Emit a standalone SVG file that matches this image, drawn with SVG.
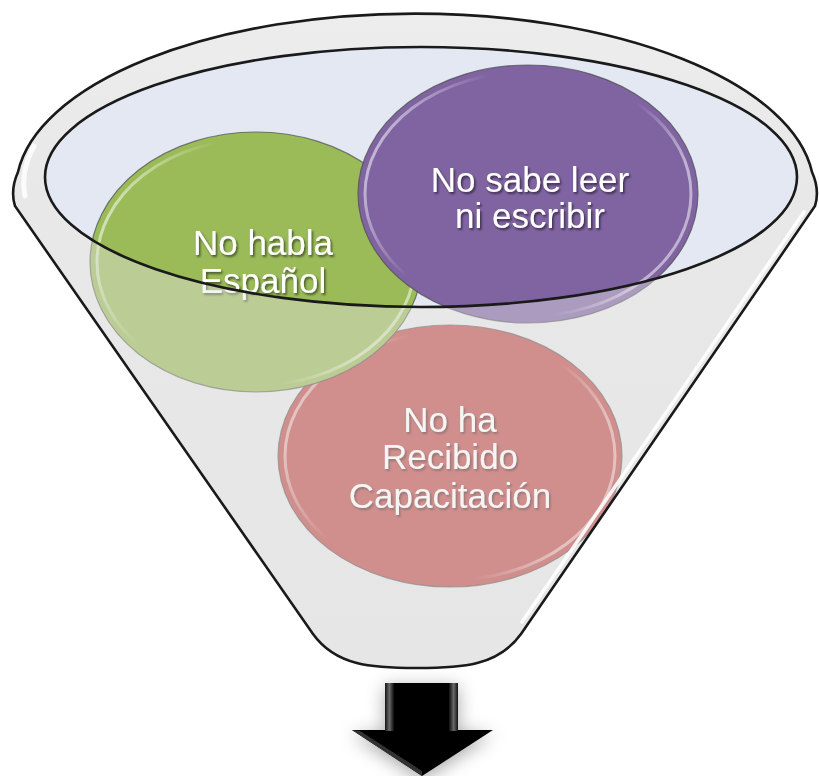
<svg xmlns="http://www.w3.org/2000/svg" width="819" height="776" viewBox="0 0 819 776">
<style>
.lbl{font-family:"Liberation Sans",Arial,sans-serif;font-size:35px;fill:#ffffff;text-anchor:middle}
.edge{fill:none;stroke:#1a1a1a;stroke-width:2.6}
.ring{stroke:#4a4a4a;stroke-width:1.2;stroke-opacity:0.7}
.gloss{fill:none;stroke:url(#hl);stroke-width:3}
</style>
<defs>
<linearGradient id="hl" x1="0" y1="0" x2="1" y2="0.3">
<stop offset="0" stop-color="#fff" stop-opacity="0.8"/>
<stop offset="0.35" stop-color="#fff" stop-opacity="0"/>
<stop offset="0.8" stop-color="#fff" stop-opacity="0"/>
<stop offset="1" stop-color="#fff" stop-opacity="0.5"/>
</linearGradient>
<linearGradient id="body" x1="0" y1="0" x2="0" y2="1">
<stop offset="0" stop-color="#f1f1f1"/>
<stop offset="0.3" stop-color="#e8e8e8"/>
<stop offset="1" stop-color="#e6e6e6"/>
</linearGradient>
<linearGradient id="shaftG" x1="0" y1="0" x2="1" y2="0">
<stop offset="0" stop-color="#111"/>
<stop offset="0.06" stop-color="#6a6a6a"/>
<stop offset="0.13" stop-color="#000"/>
<stop offset="0.87" stop-color="#000"/>
<stop offset="0.94" stop-color="#6a6a6a"/>
<stop offset="1" stop-color="#111"/>
</linearGradient>
<filter id="ts" x="-10%" y="-20%" width="130%" height="150%">
<feDropShadow dx="1.5" dy="2" stdDeviation="1.2" flood-color="#000" flood-opacity="0.55"/>
</filter>
<filter id="as" x="-40%" y="-40%" width="180%" height="180%">
<feDropShadow dx="0" dy="4" stdDeviation="9" flood-color="#000" flood-opacity="0.35"/>
</filter>
<path id="outer" d="M 18,172 A 399 176 0 0 1 812,172 Q 820,190 815,206 L 521,634 C 498,666 462,668 417,668 C 372,668 336,666 313,634 L 15,206 Q 10,190 18,172 Z"/>
<clipPath id="fclip"><use href="#outer"/></clipPath>
</defs>

<g id="funnel">
<use href="#outer" fill="url(#body)"/>
<ellipse cx="421" cy="177" rx="376" ry="130" fill="#e4e8f3"/>
</g>

<g clip-path="url(#fclip)">
<g id="node-capacitacion">
<ellipse class="ring" cx="450" cy="456" rx="172" ry="131" fill="#c0504d"/>
<ellipse class="gloss" cx="450" cy="456" rx="165" ry="124"/>
<text class="lbl" filter="url(#ts)"><tspan x="450" y="432">No ha</tspan><tspan x="450" y="469">Recibido</tspan><tspan x="450" y="508">Capacitación</tspan></text>
</g>

<g id="node-espanol">
<ellipse class="ring" cx="256" cy="262" rx="166" ry="130" fill="#9bbb59"/>
<ellipse class="gloss" cx="256" cy="262" rx="159" ry="123"/>
<text class="lbl" filter="url(#ts)"><tspan x="263" y="255">No habla</tspan><tspan x="263" y="293">Español</tspan></text>
</g>

<g id="node-leer">
<ellipse class="ring" cx="528" cy="194" rx="170" ry="129" fill="#8064a2"/>
<ellipse class="gloss" cx="528" cy="194" rx="163" ry="122"/>
<text class="lbl" filter="url(#ts)"><tspan x="530" y="192">No sabe leer</tspan><tspan x="530" y="228">ni escribir</tspan></text>
</g>
</g>

<g id="funnel-front">
<path fill="#e6e6e6" fill-opacity="0.42" fill-rule="evenodd" d="M 18,172 A 399 176 0 0 1 812,172 Q 820,190 815,206 L 521,634 C 498,666 462,668 417,668 C 372,668 336,666 313,634 L 15,206 Q 10,190 18,172 Z M 45,177 A 376 130 0 1 0 797,177 A 376 130 0 1 0 45,177 Z"/>
<path d="M 34,146 Q 20,172 25,196" fill="none" stroke="#fff" stroke-width="5" stroke-opacity="0.8" stroke-linecap="round"/>
<path d="M 804,212 L 522,622" fill="none" stroke="#fff" stroke-width="3.5" stroke-opacity="0.9" stroke-linecap="round"/>
<use href="#outer" class="edge"/>
<ellipse class="edge" cx="421" cy="177" rx="376" ry="130"/>
</g>

<g id="connectors">
<g id="arrow" filter="url(#as)">
<path d="M 352,730 L 493,730 L 422,776 Z" fill="#000"/>
<path d="M 360,731 L 422,771 L 422,776 L 352,730 Z" fill="#333"/>
<rect x="385" y="683" width="73" height="48" fill="url(#shaftG)"/>
</g>
</g>
</svg>
